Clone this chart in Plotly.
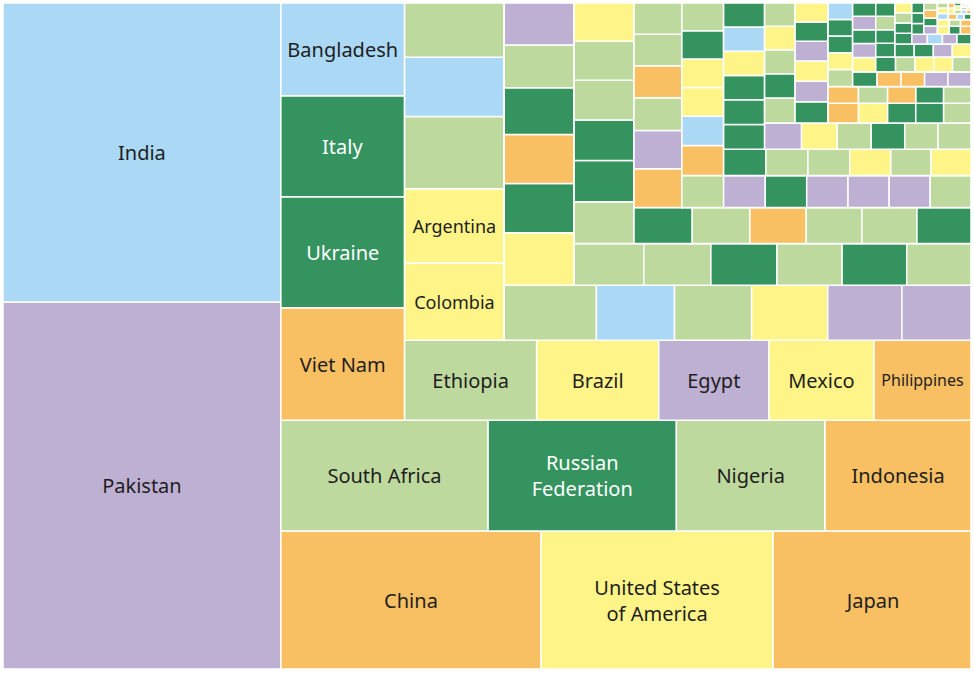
import plotly.graph_objects as go

# ---------------- data (descending) ----------------
labels = ["Pakistan", "India", "China", "United States of America", "Japan",
          "South Africa", "Russian Federation", "Nigeria", "Indonesia", "Viet Nam",
          "Ukraine", "Italy", "Bangladesh", "Ethiopia", "Brazil", "Egypt", "Mexico",
          "Philippines", "Colombia", "Argentina"]

values = [102000, 83100, 35900, 32000, 27300,
          23000, 20900, 16500, 16200,
          13900, 13750, 12500, 11500,
          10550, 9750, 8800, 8400, 7750,
          7700, 7400, 7200, 5900, 5400,
          5060, 4290, 4235, 4180, 4070, 3795,
          3680, 3440, 3430, 3260, 3000, 2930,
          2920, 2810, 2770, 2730, 2710, 2692,
          2500, 2470, 2430, 2380, 2330, 2290,
          2090, 2070, 2020, 2000, 1975, 1941,
          1860, 1830, 1570, 1530, 1510, 1492,
          1345, 1340, 1335, 1330, 1325, 1320, 1315,
          1245, 1225, 1205, 1190, 1175, 1165,
          1100, 1095, 1090, 1070, 1050, 1040,
          1020, 1010, 1000, 995, 990, 985,
          975, 940, 900, 885, 880, 870,
          760, 740, 725, 715, 710,
          700, 680, 665, 650, 640, 625,
          600, 575, 555, 550, 540,
          510, 490, 475, 465, 460,
          415, 413, 410, 408, 404,
          360, 352, 346, 342, 340,
          330, 322, 315, 312, 308,
          290, 283, 277, 275, 270,
          265, 262, 258, 255,
          252, 250, 248, 245,
          180, 175, 170, 165,
          150, 145, 140, 135,
          130, 125, 120, 115, 110, 105, 100, 95, 90, 85, 80, 75, 70, 65, 60,
          55, 50, 45, 40, 35, 30, 28, 25, 22, 20, 18, 15, 12, 10, 8, 6, 5, 4, 3]

regions = ["EMR", "SEAR", "WPR", "AMR", "WPR",
           "AFR", "EUR", "AFR", "WPR",
           "WPR", "EUR", "EUR", "SEAR",
           "AFR", "AMR", "EMR", "AMR", "WPR",
           "AMR", "AMR", "AFR", "SEAR", "AFR",
           "AFR", "SEAR", "AFR", "AMR", "EMR", "EMR",
           "AMR", "EUR", "WPR", "EUR", "AFR", "EMR",
           "AFR", "AFR", "EUR", "AFR", "EUR", "AFR",
           "AFR", "EUR", "EUR", "AFR", "AFR", "AMR",
           "EUR", "AFR", "WPR", "AFR", "AFR", "EUR",
           "WPR", "EMR", "AFR", "WPR", "AFR", "AFR",
           "AFR", "EMR", "EUR", "EMR", "EMR", "EMR", "AFR",
           "WPR", "SEAR", "AMR", "AMR", "EUR", "AFR",
           "EUR", "AFR", "AFR", "AMR", "AFR", "AMR",
           "EUR", "EUR", "EUR", "AMR", "SEAR", "EUR",
           "EMR", "AMR", "AFR", "EUR", "AFR", "AFR",
           "AFR", "EUR", "AFR", "AMR", "AFR",
           "EUR", "EMR", "AMR", "EMR", "EUR", "AMR",
           "WPR", "AMR", "EUR", "EUR", "AFR",
           "WPR", "AFR", "WPR", "EUR", "AFR",
           "AFR", "AMR", "EUR", "EUR", "SEAR",
           "EUR", "WPR", "WPR", "EMR", "EMR",
           "AMR", "EMR", "EUR", "EMR", "EUR",
           "EUR", "AFR", "AMR", "AMR", "AFR",
           "EUR", "EUR", "AFR", "EUR",
           "EUR", "EUR", "EMR", "AMR",
           "EUR", "EUR", "AFR", "AMR",
           "EMR", "SEAR", "EMR", "EUR",
           "EUR", "EUR", "EUR", "EMR", "EUR", "WPR", "AFR", "AMR", "EUR", "WPR",
           "AMR", "AFR", "WPR", "SEAR", "AMR",
           "AFR", "WPR", "SEAR", "EUR", "AMR", "WPR", "AFR", "AMR", "EUR", "SEAR",
           "WPR", "AFR", "AMR", "EMR", "WPR", "AFR", "AMR", "EUR", "SEAR"]

region_colors = {"SEAR": "#AAD8F5", "EMR": "#BEB0D3", "EUR": "#34935F",
                 "AFR": "#BED99E", "AMR": "#FFF488", "WPR": "#F8BF63"}
wrapped = {"United States of America": "United States<br>of America",
           "Russian Federation": "Russian<br>Federation"}
label_sizes = {"Colombia": 18, "Argentina": 18, "Philippines": 16}


# ---------------- squarified layout order (unit square) ----------------
def _rects(sizes, dx, dy):
    a = sum(sizes)
    if dx >= dy:
        w = a / dy
        return [(w, s / w) for s in sizes]
    h = a / dx
    return [(s / h, h) for s in sizes]


def _worst(sizes, dx, dy):
    return max(max(w / h, h / w) for w, h in _rects(sizes, dx, dy))


def squarify_strips(vals, dx=100.0, dy=100.0):
    tot = sum(vals)
    sizes = [v * dx * dy / tot for v in vals]
    strips, start, n = [], 0, len(sizes)
    while start < n:
        rest = sizes[start:]
        i = 1
        while i < len(rest) and _worst(rest[:i], dx, dy) >= _worst(rest[:i + 1], dx, dy):
            i += 1
        ori = "V" if dx >= dy else "H"
        a = sum(rest[:i])
        if ori == "V":
            dx = max(dx - a / dy, 1e-9)
        else:
            dy = max(dy - a / dx, 1e-9)
        strips.append((start, start + i, ori))
        start += i
    return strips


strips = squarify_strips(values)

ids, parents, tvals, texts, cols, fsz, fcol = [], [], [], [], [], [], []
counter = [0]


def new_group(parent):
    counter[0] += 1
    gid = "grp%d" % counter[0]
    ids.append(gid); parents.append(parent); tvals.append(0); texts.append("")
    cols.append("#ffffff"); fsz.append(20); fcol.append("#1e1e1e")
    return gid


def add_leaf(k, parent):
    name = labels[k] if k < len(labels) else ""
    ids.append("tile%d" % k); parents.append(parent); tvals.append(values[k])
    texts.append(wrapped.get(name, name))
    cols.append(region_colors[regions[k]])
    fsz.append(label_sizes.get(name, 20))
    fcol.append("#ffffff" if regions[k] == "EUR" else "#1e1e1e")


def make_region(si, parent, depth):
    ori = strips[si][2]
    if (ori == "V") != (depth % 2 == 0):
        w = new_group(parent)
        make_region(si, w, depth + 1)
        return
    node = new_group(parent)
    j = si
    while j < len(strips) and strips[j][2] == ori:
        a, b, _ = strips[j]
        if b - a == 1:
            add_leaf(a, node)
        else:
            s = new_group(node)
            for k in range(a, b):
                add_leaf(k, s)
        j += 1
    if j < len(strips):
        make_region(j, node, depth + 1)


make_region(0, "", 0)

fig = go.Figure(go.Treemap(
    ids=ids, labels=ids, parents=parents, values=tvals,
    branchvalues="remainder", sort=False,
    text=texts, textinfo="text", textposition="middle center",
    textfont=dict(family="Noto Sans", size=fsz, color=fcol),
    marker=dict(colors=cols, line=dict(color="white", width=1.5),
                pad=dict(t=0, l=0, r=0, b=0), depthfade=False),
    tiling=dict(packing="slice-dice", flip="y", pad=0),
    pathbar=dict(visible=False), root=dict(color="white"),
    maxdepth=-1, hoverinfo="skip",
))
try:
    fig.update_traces(leaf=dict(opacity=1))
except Exception:
    pass

fig.update_layout(width=974, height=673,
                  margin=dict(l=3, r=3, t=3, b=4),
                  paper_bgcolor="white")
fig.write_html("out.html")
